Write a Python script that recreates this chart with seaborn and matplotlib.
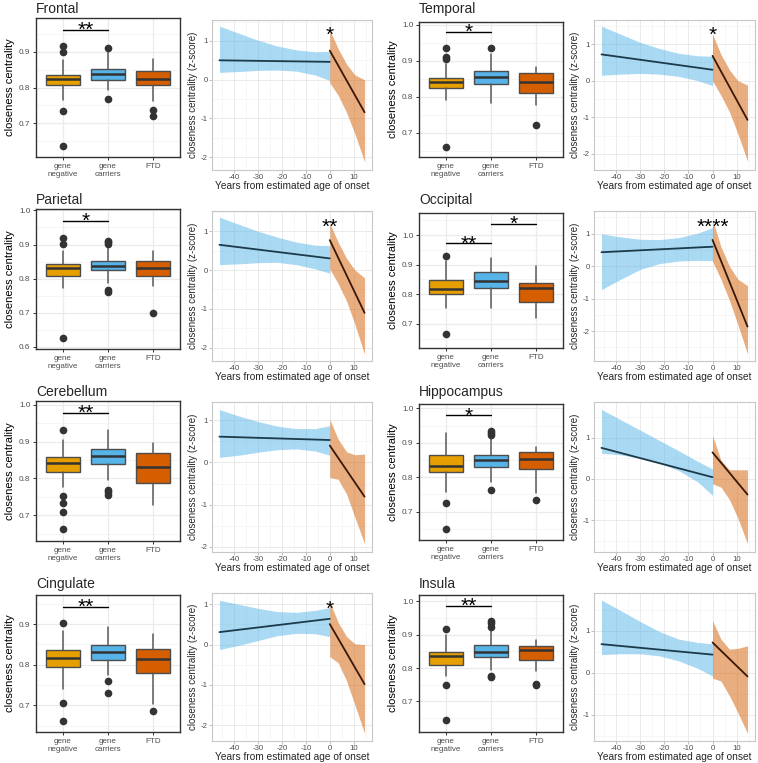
import matplotlib.pyplot as plt
import matplotlib.ticker as mticker
import seaborn as sns

sns.set_theme(style='white')
plt.rcParams['font.family'] = ['Liberation Sans', 'DejaVu Sans']
plt.rcParams['axes.unicode_minus'] = False

regions = ['Frontal', 'Temporal', 'Parietal', 'Occipital',
           'Cerebellum', 'Hippocampus', 'Cingulate', 'Insula']
groups = ['gene\nnegative', 'gene\ncarriers', 'FTD']
group_colors = ['#E69F00', '#56B4E9', '#D55E00']

# boxplot stats per group: [whisker low, q1, median, q3, whisker high]
box_stats = {
    'Frontal':     [[0.766, 0.806, 0.824, 0.836, 0.878], [0.793, 0.822, 0.838, 0.853, 0.898], [0.761, 0.806, 0.825, 0.847, 0.880]],
    'Temporal':    [[0.791, 0.823, 0.841, 0.852, 0.890], [0.783, 0.834, 0.854, 0.871, 0.920], [0.777, 0.811, 0.842, 0.866, 0.884]],
    'Parietal':    [[0.772, 0.808, 0.830, 0.842, 0.881], [0.787, 0.824, 0.836, 0.852, 0.891], [0.778, 0.808, 0.832, 0.852, 0.881]],
    'Occipital':   [[0.753, 0.801, 0.818, 0.848, 0.911], [0.753, 0.822, 0.845, 0.875, 0.922], [0.719, 0.775, 0.820, 0.838, 0.894]],
    'Cerebellum':  [[0.777, 0.818, 0.843, 0.857, 0.903], [0.795, 0.839, 0.860, 0.879, 0.932], [0.727, 0.788, 0.830, 0.868, 0.896]],
    'Hippocampus': [[0.758, 0.815, 0.834, 0.865, 0.927], [0.785, 0.829, 0.849, 0.865, 0.913], [0.753, 0.824, 0.853, 0.873, 0.889]],
    'Cingulate':   [[0.740, 0.794, 0.816, 0.837, 0.883], [0.775, 0.812, 0.831, 0.848, 0.893], [0.704, 0.780, 0.813, 0.838, 0.875]],
    'Insula':      [[0.775, 0.810, 0.837, 0.849, 0.898], [0.795, 0.832, 0.849, 0.869, 0.913], [0.790, 0.825, 0.853, 0.866, 0.885]],
}
box_fliers = {
    'Frontal':     [[0.917, 0.899, 0.734, 0.637], [0.911, 0.768], [0.737, 0.720]],
    'Temporal':    [[0.935, 0.911, 0.904, 0.661], [0.935], [0.721]],
    'Parietal':    [[0.920, 0.901, 0.627], [0.911, 0.906, 0.901, 0.766, 0.760], [0.699]],
    'Occipital':   [[0.929, 0.666], [], []],
    'Cerebellum':  [[0.932, 0.752, 0.734, 0.709, 0.662], [0.768, 0.762, 0.756], []],
    'Hippocampus': [[0.724, 0.650], [0.935, 0.929, 0.922, 0.763], [0.734]],
    'Cingulate':   [[0.904, 0.706, 0.661], [0.759, 0.730], [0.687]],
    'Insula':      [[0.916, 0.749, 0.643], [0.940, 0.934, 0.924, 0.776, 0.773], [0.752, 0.748]],
}
# significance brackets: (group a, group b, bracket height, label)
box_sig = {
    'Frontal':     [(0, 1, 0.961, '**')],
    'Temporal':    [(0, 1, 0.980, '*')],
    'Parietal':    [(0, 1, 0.970, '*')],
    'Occipital':   [(0, 1, 0.972, '**'), (1, 2, 1.038, '*')],
    'Cerebellum':  [(0, 1, 0.978, '**')],
    'Hippocampus': [(0, 1, 0.980, '*')],
    'Cingulate':   [(0, 1, 0.943, '**')],
    'Insula':      [(0, 1, 0.987, '**')],
}
box_ylim = {
    'Frontal': (0.606, 0.994), 'Temporal': (0.632, 1.008), 'Parietal': (0.594, 1.004),
    'Occipital': (0.618, 1.075), 'Cerebellum': (0.630, 1.010), 'Hippocampus': (0.618, 1.0125),
    'Cingulate': (0.634, 0.972), 'Insula': (0.608, 1.0195),
}

# z-score trajectories: carriers before onset (blue) and FTD after onset (orange)
pre_x = [-46, -38, -30, -22, -14, -6, 0]
post_x = [0, 3.5, 7, 10.5, 14.5]
fit_pre_x = [-46, 0]
fit_post_x = [0, 14.5]
pre_fit = {
    'Frontal': [0.50, 0.46], 'Temporal': [0.72, 0.30], 'Parietal': [0.65, 0.30], 'Occipital': [0.43, 0.60],
    'Cerebellum': [0.61, 0.53], 'Hippocampus': [0.75, 0.04], 'Cingulate': [0.31, 0.64], 'Insula': [0.68, 0.43],
}
pre_upper = {
    'Frontal':     [1.38, 1.20, 1.02, 0.87, 0.77, 0.72, 0.73],
    'Temporal':    [1.49, 1.27, 1.05, 0.88, 0.75, 0.68, 0.67],
    'Parietal':    [1.36, 1.18, 1.00, 0.85, 0.72, 0.64, 0.63],
    'Occipital':   [1.00, 0.90, 0.83, 0.82, 0.88, 1.02, 1.19],
    'Cerebellum':  [1.25, 1.10, 0.97, 0.86, 0.80, 0.80, 0.87],
    'Hippocampus': [1.68, 1.43, 1.18, 0.93, 0.68, 0.42, 0.24],
    'Cingulate':   [1.10, 1.00, 0.90, 0.82, 0.80, 0.85, 0.92],
    'Insula':      [1.73, 1.48, 1.22, 0.98, 0.80, 0.72, 0.69],
}
pre_lower = {
    'Frontal':     [0.19, 0.21, 0.24, 0.25, 0.22, 0.12, -0.02],
    'Temporal':    [0.15, 0.18, 0.20, 0.18, 0.12, 0.00, -0.13],
    'Parietal':    [0.14, 0.16, 0.19, 0.20, 0.14, 0.03, -0.08],
    'Occipital':   [-0.72, -0.40, -0.10, 0.08, 0.16, 0.18, 0.17],
    'Cerebellum':  [0.12, 0.17, 0.24, 0.30, 0.32, 0.27, 0.17],
    'Hippocampus': [0.62, 0.58, 0.50, 0.38, 0.20, -0.08, -0.40],
    'Cingulate':   [-0.12, -0.02, 0.10, 0.22, 0.28, 0.27, 0.20],
    'Insula':      [0.43, 0.45, 0.45, 0.40, 0.28, 0.10, -0.08],
}
post_fit = {
    'Frontal': [0.75, -0.84], 'Temporal': [0.68, -1.07], 'Parietal': [0.77, -1.10], 'Occipital': [0.81, -1.86],
    'Cerebellum': [0.40, -0.81], 'Hippocampus': [0.64, -0.38], 'Cingulate': [0.51, -0.98], 'Insula': [0.72, -0.09],
}
post_upper = {
    'Frontal':     [1.28, 0.80, 0.40, 0.12, 0.00],
    'Temporal':    [1.27, 0.72, 0.30, 0.00, -0.12],
    'Parietal':    [1.20, 0.72, 0.30, 0.00, -0.20],
    'Occipital':   [1.43, 0.60, 0.00, -0.40, -0.60],
    'Cerebellum':  [1.02, 0.55, 0.25, 0.18, 0.20],
    'Hippocampus': [1.05, 0.45, 0.22, 0.22, 0.22],
    'Cingulate':   [1.06, 0.55, 0.20, 0.02, 0.00],
    'Insula':      [1.24, 0.80, 0.56, 0.58, 0.64],
}
post_lower = {
    'Frontal':     [-0.08, -0.40, -0.85, -1.40, -2.12],
    'Temporal':    [0.00, -0.40, -0.85, -1.45, -2.20],
    'Parietal':    [0.03, -0.35, -0.80, -1.40, -2.17],
    'Occipital':   [0.15, -0.40, -1.05, -1.80, -2.70],
    'Cerebellum':  [-0.36, -0.40, -0.75, -1.30, -1.93],
    'Hippocampus': [-0.12, -0.20, -0.50, -0.95, -1.57],
    'Cingulate':   [-0.30, -0.45, -0.90, -1.50, -2.20],
    'Insula':      [-0.13, -0.20, -0.55, -0.95, -1.45],
}
line_sig = {'Frontal': (1.31, '*'), 'Temporal': (1.41, '*'), 'Parietal': (1.27, '**'),
            'Occipital': (1.39, '****'), 'Cingulate': (1.04, '*')}
line_ylim = {
    'Frontal': (-2.33, 1.54), 'Temporal': (-2.44, 1.66), 'Parietal': (-2.34, 1.52), 'Occipital': (-2.92, 1.70),
    'Cerebellum': (-2.12, 1.43), 'Hippocampus': (-1.77, 1.86), 'Cingulate': (-2.39, 1.28), 'Insula': (-1.63, 1.90),
}

# layout in pixels of a 758x763 canvas
W, H = 758, 763
col_box_x = [(36, 180), (419, 563)]
col_line_x = [(212, 372), (594, 755)]
box_rows = [[(18, 157), (22, 157)], [(209, 349), (213, 348)], [(401, 541), (404, 540)], [(595, 732), (595, 732)]]
line_rows = [(20, 170), (211, 361), (402, 552), (593, 741)]
title_base = [13, 204, 396, 588]


def rect(x0, y0, x1, y1):
    return [x0 / W, 1 - y1 / H, (x1 - x0) / W, (y1 - y0) / H]


fig = plt.figure(figsize=(W / 100, H / 100), dpi=100)
tick_grey = '#4D4D4D'

for i, reg in enumerate(regions):
    row, col = divmod(i, 2)

    # ---- boxplot panel
    bx0, bx1 = col_box_x[col]
    by0, by1 = box_rows[row][col]
    ax = fig.add_axes(rect(bx0, by0, bx1, by1))
    stats = []
    for g, s in enumerate(box_stats[reg]):
        stats.append(dict(whislo=s[0], q1=s[1], med=s[2], q3=s[3], whishi=s[4],
                          fliers=box_fliers[reg][g], label=groups[g]))
    bp = ax.bxp(stats, positions=[0, 1, 2], widths=0.75, patch_artist=True, showcaps=False,
                manage_ticks=False,
                boxprops=dict(edgecolor='#4D4D4D', linewidth=1.0),
                medianprops=dict(color='#333333', linewidth=1.8),
                whiskerprops=dict(color='#5A5A5A', linewidth=1.1),
                flierprops=dict(marker='o', markerfacecolor='#333333', markeredgecolor='#333333',
                                markersize=4.5))
    for patch, c in zip(bp['boxes'], group_colors):
        patch.set_facecolor(c)
    for a, b, h, lab in box_sig[reg]:
        ax.plot([a, b], [h, h], color='black', lw=1.0)
        ax.annotate(lab, xy=((a + b) / 2, h), xytext=(0, -4.5), textcoords='offset points',
                    ha='center', va='baseline', fontsize=15, color='black')
    ax.set_xlim(-0.6, 2.6)
    ax.set_ylim(*box_ylim[reg])
    ax.set_xticks([0, 1, 2])
    ax.set_xticklabels(groups, fontsize=5.8, color=tick_grey, linespacing=1.15)
    ax.yaxis.set_major_locator(mticker.MultipleLocator(0.1))
    ax.yaxis.set_minor_locator(mticker.MultipleLocator(0.05))
    ax.yaxis.set_major_formatter(mticker.FormatStrFormatter('%.1f'))
    ax.xaxis.set_minor_locator(mticker.NullLocator())
    ax.tick_params(axis='y', labelsize=5.9, labelcolor=tick_grey, length=2.5, width=0.7,
                   color='#333333', left=True, pad=1.5)
    ax.tick_params(axis='x', length=2.5, width=0.7, color='#333333', bottom=True, pad=2)
    ax.tick_params(which='minor', length=0)
    ax.grid(which='major', color='#EBEBEB', lw=0.9)
    ax.grid(which='minor', color='#F2F2F2', lw=0.5)
    ax.set_axisbelow(True)
    for sp in ax.spines.values():
        sp.set_color('#333333')
        sp.set_linewidth(1.0)
    ax.set_ylabel('closeness centrality', fontsize=8, color='black', labelpad=3)
    fig.text(bx0 / W, 1 - title_base[row] / H, reg, fontsize=10, ha='left', va='baseline')

    # ---- trajectory panel
    lx0, lx1 = col_line_x[col]
    ly0, ly1 = line_rows[row]
    ax2 = fig.add_axes(rect(lx0, ly0, lx1, ly1))
    ax2.fill_between(pre_x, pre_lower[reg], pre_upper[reg], color='#56B4E9', alpha=0.5, lw=0)
    ax2.fill_between(post_x, post_lower[reg], post_upper[reg], color='#D55E00', alpha=0.5, lw=0)
    sns.lineplot(x=fit_pre_x, y=pre_fit[reg], ax=ax2, color='#1B3B4A', lw=1.3)
    sns.lineplot(x=fit_post_x, y=post_fit[reg], ax=ax2, color='#3A1808', lw=1.3)
    if reg in line_sig:
        ys, lab = line_sig[reg]
        ax2.annotate(lab, xy=(0, ys), xytext=(0, -8.5), textcoords='offset points',
                     ha='center', va='baseline', fontsize=15, color='black')
    ax2.set_xlim(-49.1, 17.6)
    ax2.set_ylim(*line_ylim[reg])
    ax2.xaxis.set_major_locator(mticker.MultipleLocator(10))
    ax2.xaxis.set_minor_locator(mticker.MultipleLocator(5))
    ax2.yaxis.set_major_locator(mticker.MultipleLocator(1))
    ax2.yaxis.set_minor_locator(mticker.MultipleLocator(0.5))
    ax2.xaxis.set_major_formatter(mticker.FormatStrFormatter('%d'))
    ax2.yaxis.set_major_formatter(mticker.FormatStrFormatter('%d'))
    ax2.tick_params(labelsize=5.6, labelcolor=tick_grey, length=2.0, width=0.6,
                    color='#B3B3B3', left=True, bottom=True, pad=1.2)
    ax2.tick_params(which='minor', length=0)
    ax2.grid(which='major', color='#E6E6E6', lw=0.6)
    ax2.grid(which='minor', color='#F0F0F0', lw=0.4)
    ax2.set_axisbelow(True)
    for sp in ax2.spines.values():
        sp.set_color('#C8C8C8')
        sp.set_linewidth(0.8)
    ax2.set_xlabel('Years from estimated age of onset', fontsize=7.3, labelpad=-0.5)
    ax2.set_ylabel('closeness centrality (z-score)', fontsize=7, labelpad=2)

fig.savefig('out.png', dpi=100)
